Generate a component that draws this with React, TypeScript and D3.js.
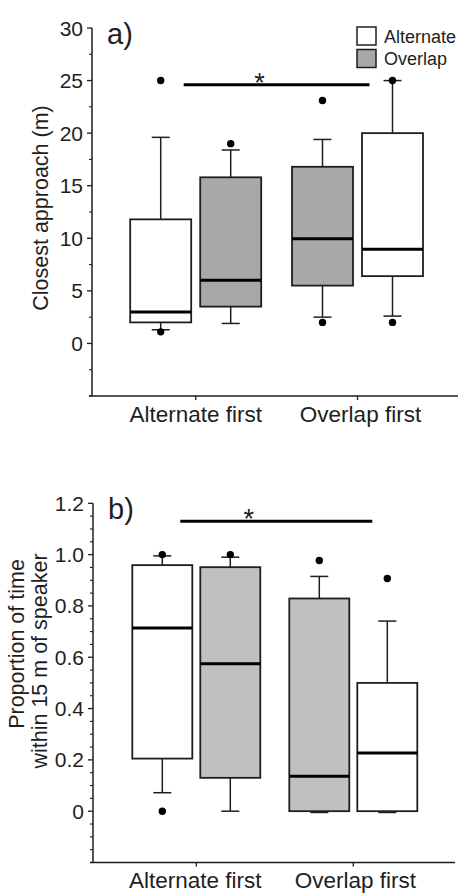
import React from "react";
import * as d3 from "d3";

// ---------- shared categories ----------
const groups = ["Alternate first", "Overlap first"];
const seriesNames = ["Alternate", "Overlap"];
const slots = ["first", "second"];

// ---------- panel a: closest approach (m) ----------
const approachGroup = ["Alternate first", "Alternate first", "Overlap first", "Overlap first"];
const approachSeries = ["Alternate", "Overlap", "Overlap", "Alternate"];
const approachSlot = ["first", "second", "first", "second"];
const approachLow = [1.3, 1.9, 2.5, 2.6];
const approachQ1 = [2.0, 3.5, 5.5, 6.4];
const approachMedian = [3.0, 6.0, 9.95, 8.95];
const approachQ3 = [11.8, 15.8, 16.8, 20.0];
const approachHigh = [19.6, 18.4, 19.4, 25.0];
const approachOutliers = [[25.0, 1.1], [19.0], [23.1, 2.0], [25.0, 2.0]];
const approachTicks = [0, 5, 10, 15, 20, 25, 30];
const approachTickLabels = ["0", "5", "10", "15", "20", "25", "30"];
const approachSig = 24.6;

// ---------- panel b: proportion of time within 15 m ----------
const proportionGroup = ["Alternate first", "Alternate first", "Overlap first", "Overlap first"];
const proportionSeries = ["Alternate", "Overlap", "Overlap", "Alternate"];
const proportionSlot = ["first", "second", "first", "second"];
const proportionLow = [0.072, 0.0, -0.005, -0.005];
const proportionQ1 = [0.205, 0.13, 0.0, 0.0];
const proportionMedian = [0.714, 0.575, 0.136, 0.227];
const proportionQ3 = [0.959, 0.951, 0.829, 0.5];
const proportionHigh = [0.995, 0.99, 0.915, 0.741];
const proportionOutliers = [[1.0, 0.0], [1.0], [0.977], [0.907]];
const proportionTicks = [0, 0.2, 0.4, 0.6, 0.8, 1.0, 1.2];
const proportionTickLabels = ["0", "0.2", "0.4", "0.6", "0.8", "1.0", "1.2"];
const proportionSig = 1.13;

const FONT = "'Liberation Sans', Arial, Helvetica, sans-serif";
const INK = "#1e1e1e";

type PanelProps = {
  label: string;
  domain: [number, number];
  yRange: [number, number];
  minorStep: number;
  ticks: number[];
  tickLabels: string[];
  catCenters: [number, number];
  slotOffset: number;
  boxWidth: number;
  axisX: number;
  axisRight: number;
  gray: string;
  grp: string[];
  ser: string[];
  slot: string[];
  low: number[];
  q1: number[];
  med: number[];
  q3: number[];
  high: number[];
  outliers: number[][];
  sig: number;
  sigSpan: [number, number];
  starDx: number;
  title: string[];
  titleX: number[];
  titleY: number[];
  catLabelY: number;
  catLabelDx: [number, number];
  showLegend: boolean;
};

function Panel(p: PanelProps) {
  const y = d3.scaleLinear().domain(p.domain).range(p.yRange);
  const xg = d3.scalePoint<string>().domain(groups).range(p.catCenters);
  const xs = d3.scalePoint<string>().domain(slots).range([-p.slotOffset, p.slotOffset]);
  const fill = d3.scaleOrdinal<string, string>().domain(seriesNames).range(["#ffffff", p.gray]);
  const minor = d3.range(p.domain[0], p.domain[1] + 1e-9, p.minorStep).filter(
    (v) => !p.ticks.some((t) => Math.abs(t - v) < 1e-6)
  );
  const capW = 18;
  const top = y(p.domain[1]);
  const bottom = y(p.domain[0]);
  return (
    <g>
      {/* y axis */}
      <line x1={p.axisX} x2={p.axisX} y1={top} y2={bottom} stroke={INK} strokeWidth={1.5} />
      {p.ticks.map((t, i) => (
        <g key={"t" + i}>
          <line x1={p.axisX - 5} x2={p.axisX} y1={y(t)} y2={y(t)} stroke={INK} strokeWidth={1.3} />
          <text x={p.axisX - 9} y={y(t)} dy="0.36em" textAnchor="end" fontSize={21} fontFamily={FONT} fill={INK}>
            {p.tickLabels[i]}
          </text>
        </g>
      ))}
      {minor.map((v, i) => (
        <line key={"m" + i} x1={p.axisX - 3} x2={p.axisX} y1={y(v)} y2={y(v)} stroke={INK} strokeWidth={1.1} />
      ))}
      {/* x axis */}
      <line x1={p.axisX - 3} x2={p.axisRight} y1={bottom} y2={bottom} stroke={INK} strokeWidth={1.5} />
      {groups.map((g, i) => (
        <g key={"c" + i}>
          <line x1={xg(g)!} x2={xg(g)!} y1={bottom} y2={bottom + 4} stroke={INK} strokeWidth={1.3} />
          <text x={xg(g)! + p.catLabelDx[i]} y={p.catLabelY} textAnchor="middle" fontSize={22.5} fontFamily={FONT} fill={INK}>
            {g}
          </text>
        </g>
      ))}
      {/* y title */}
      {p.title.map((t, i) => (
        <text
          key={"yt" + i}
          transform={`translate(${p.titleX[i]},${p.titleY[i]}) rotate(-90)`}
          textAnchor="middle"
          fontSize={21.5}
          fontFamily={FONT}
          fill={INK}
        >
          {t}
        </text>
      ))}
      {/* panel label */}
      <text x={p.axisX + 15} y={y(p.ticks[p.ticks.length - 1]) + 16} fontSize={29} fontFamily={FONT} fill={INK}>
        {p.label}
      </text>
      {/* boxes */}
      {p.grp.map((g, i) => {
        const cx = xg(g)! + xs(p.slot[i])!;
        const x0 = cx - p.boxWidth / 2;
        return (
          <g key={"b" + i}>
            <line x1={cx} x2={cx} y1={y(p.q3[i])} y2={y(p.high[i])} stroke={INK} strokeWidth={1.5} />
            <line x1={cx - capW / 2} x2={cx + capW / 2} y1={y(p.high[i])} y2={y(p.high[i])} stroke={INK} strokeWidth={1.5} />
            <line x1={cx} x2={cx} y1={y(p.q1[i])} y2={y(p.low[i])} stroke={INK} strokeWidth={1.5} />
            <line x1={cx - capW / 2} x2={cx + capW / 2} y1={y(p.low[i])} y2={y(p.low[i])} stroke={INK} strokeWidth={1.5} />
            <rect
              x={x0}
              y={y(p.q3[i])}
              width={p.boxWidth}
              height={y(p.q1[i]) - y(p.q3[i])}
              fill={fill(p.ser[i])}
              stroke={INK}
              strokeWidth={1.8}
            />
            <line x1={x0} x2={x0 + p.boxWidth} y1={y(p.med[i])} y2={y(p.med[i])} stroke="#000" strokeWidth={3} />
            {p.outliers[i].map((o, j) => (
              <circle key={j} cx={cx} cy={y(o)} r={3.7} fill="#000" />
            ))}
          </g>
        );
      })}
      {/* significance bar */}
      <line
        x1={xg(groups[0])! + p.sigSpan[0]}
        x2={xg(groups[1])! + p.sigSpan[1]}
        y1={y(p.sig)}
        y2={y(p.sig)}
        stroke="#000"
        strokeWidth={3}
      />
      <text
        x={(xg(groups[0])! + xg(groups[1])!) / 2 + p.starDx}
        y={y(p.sig) + 7}
        textAnchor="middle"
        fontSize={27}
        fontFamily={FONT}
        fill={INK}
      >
        *
      </text>
      {/* legend */}
      {p.showLegend &&
        seriesNames.map((s, i) => (
          <g key={"lg" + i} transform={`translate(357, ${27 + i * 22.5})`}>
            <rect x={0} y={0} width={19} height={18} fill={fill(s)} stroke={INK} strokeWidth={1.5} />
            <text x={27} y={15.5} fontSize={18} fontFamily={FONT} fill={INK}>
              {s}
            </text>
          </g>
        ))}
    </g>
  );
}

export default function App() {
  return (
    <div style={{ position: "absolute", left: 0, top: 0 }}>
      <svg width={465} height={894} style={{ display: "block", background: "#fff" }}>
        <Panel
          label="a)"
          domain={[-5, 30]}
          yRange={[396, 28]}
          minorStep={2.5}
          ticks={approachTicks}
          tickLabels={approachTickLabels}
          catCenters={[195.7, 357.5]}
          slotOffset={35}
          boxWidth={61}
          axisX={92}
          axisRight={458}
          gray="#a8a8a8"
          grp={approachGroup}
          ser={approachSeries}
          slot={approachSlot}
          low={approachLow}
          q1={approachQ1}
          med={approachMedian}
          q3={approachQ3}
          high={approachHigh}
          outliers={approachOutliers}
          sig={approachSig}
          sigSpan={[-12, 12]}
          starDx={-17}
          title={["Closest approach (m)"]}
          titleX={[48]}
          titleY={[208]}
          catLabelY={422}
          catLabelDx={[0, 3]}
          showLegend={true}
        />
        <Panel
          label="b)"
          domain={[-0.2, 1.2]}
          yRange={[862.5, 503.3]}
          minorStep={0.05}
          ticks={proportionTicks}
          tickLabels={proportionTickLabels}
          catCenters={[196.3, 353.3]}
          slotOffset={34}
          boxWidth={60}
          axisX={93}
          axisRight={455}
          gray="#c0c0c0"
          grp={proportionGroup}
          ser={proportionSeries}
          slot={proportionSlot}
          low={proportionLow}
          q1={proportionQ1}
          med={proportionMedian}
          q3={proportionQ3}
          high={proportionHigh}
          outliers={proportionOutliers}
          sig={proportionSig}
          sigSpan={[-16, 19]}
          starDx={-26}
          title={["Proportion of time", "within 15 m of speaker"]}
          titleX={[24, 47]}
          titleY={[644, 661]}
          catLabelY={888}
          catLabelDx={[-1, 2]}
          showLegend={false}
        />
      </svg>
    </div>
  );
}
